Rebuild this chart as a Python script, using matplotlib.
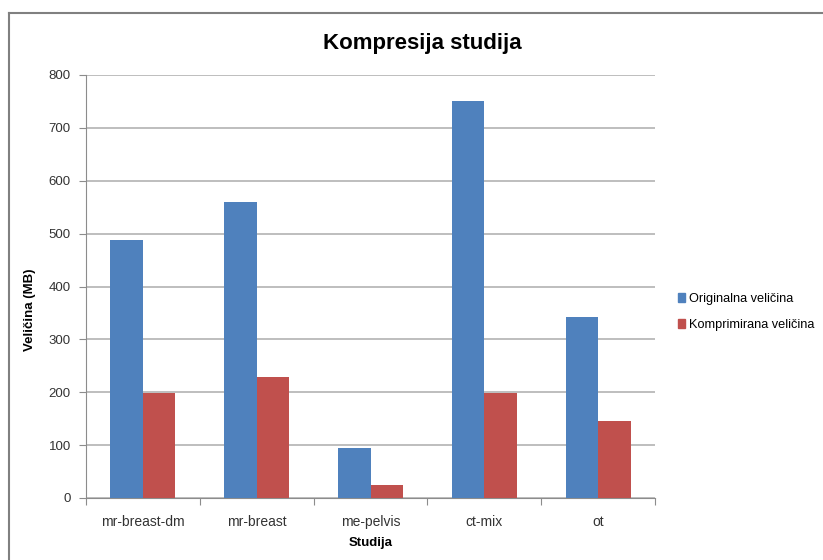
import numpy as np
import matplotlib.pyplot as plt
from matplotlib.lines import Line2D
from matplotlib.patches import Patch

plt.rcParams['font.family'] = ['Liberation Sans', 'DejaVu Sans']

# podaci
studije = ['mr-breast-dm', 'mr-breast', 'me-pelvis', 'ct-mix', 'ot']
originalna = [487, 560, 94, 751, 343]
komprimirana = [199, 229, 25, 199, 146]

plava = '#4F81BD'
crvena = '#C0504D'
siva = '#8c8c8c'

fig = plt.figure(figsize=(8.23, 5.6), dpi=100)
ax = fig.add_axes([86 / 823, 1 - 498 / 560, 569 / 823, 423 / 560])

x = np.arange(len(studije))
sirina = 1 / 3.5
ax.bar(x - sirina / 2, originalna, sirina, color=plava, label='Originalna veličina', zorder=3)
ax.bar(x + sirina / 2, komprimirana, sirina, color=crvena, label='Komprimirana veličina', zorder=3)

ax.set_xlim(-0.5, len(studije) - 0.5)
ax.set_ylim(0, 800)
ax.set_yticks(np.arange(0, 801, 100))
ax.yaxis.grid(True, color='#b3b3b3', linewidth=1.2, zorder=0)

# kategorije ispod, crtice na granicama
ax.set_xticks(np.arange(-0.5, len(studije)), minor=False)
ax.set_xticklabels([])
ax.set_xticks(x, minor=True)
ax.set_xticklabels(studije, minor=True, fontsize=10, color='#333333')
ax.tick_params(axis='x', which='major', length=5, color=siva, direction='out')
ax.tick_params(axis='x', which='minor', length=0, pad=12)
ax.tick_params(axis='y', length=5, color=siva, labelsize=9.5, labelcolor='#333333', pad=6)

for s in ['top', 'right']:
    ax.spines[s].set_visible(False)
for s in ['left', 'bottom']:
    ax.spines[s].set_color(siva)

ax.set_xlabel('Studija', fontsize=9.5, fontweight='bold', labelpad=6)
ax.set_ylabel('Veličina (MB)', fontsize=9.5, fontweight='bold')
ax.yaxis.set_label_coords(-0.088, 0.444)

fig.text(422 / 823, 1 - 43 / 560, 'Kompresija studija', ha='center', va='center',
         fontsize=16, fontweight='bold')

rucke = [Patch(color=plava), Patch(color=crvena)]
fig.legend(rucke, ['Originalna veličina', 'Komprimirana veličina'],
           loc='center left', bbox_to_anchor=(666 / 823, 1 - 312 / 560),
           frameon=False, fontsize=9.2, handlelength=0.6, handleheight=0.6,
           handletextpad=0.3, labelspacing=1.1)

# okvir grafikona
fig.add_artist(Line2D([9 / 823, 9 / 823], [0, 1 - 13 / 560], color='#808080', lw=1.5))
fig.add_artist(Line2D([9 / 823, 1], [1 - 13 / 560, 1 - 13 / 560], color='#808080', lw=1.5))

fig.savefig('out.png', dpi=100)
